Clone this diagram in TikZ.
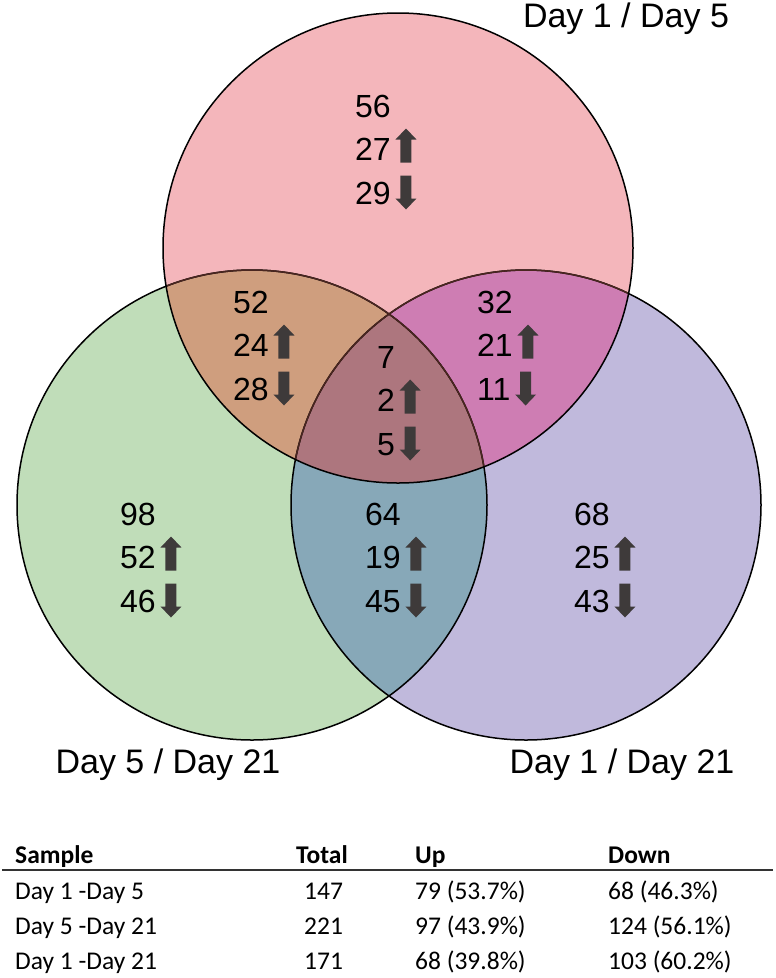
\documentclass[tikz,border=0pt]{standalone}
\usepackage{fontspec}
\setmainfont{Liberation Sans}
\newfontfamily\tabfont{Carlito}
\usetikzlibrary{calc}
\definecolor{vpink}{HTML}{F4B6BB}
\definecolor{vgreen}{HTML}{C0DDB9}
\definecolor{vpurple}{HTML}{C0B9DC}
\definecolor{vpg}{HTML}{CF9E7E}
\definecolor{vpp}{HTML}{CE7DB3}
\definecolor{vgp}{HTML}{87A8B8}
\definecolor{vall}{HTML}{AD767E}
\definecolor{vedge}{HTML}{4A2620}
\definecolor{varrow}{HTML}{3E3A3A}

\tikzset{
  uparr/.pic={\fill[varrow] (-5.5pt,-17pt) -- (5.5pt,-17pt) -- (5.5pt,6pt) -- (10.5pt,6pt) -- (0pt,17pt) -- (-10.5pt,6pt) -- (-5.5pt,6pt) -- cycle;},
  dnarr/.pic={\fill[varrow] (-5.5pt,17pt) -- (5.5pt,17pt) -- (5.5pt,-6pt) -- (10.5pt,-6pt) -- (0pt,-17pt) -- (-10.5pt,-6pt) -- (-5.5pt,-6pt) -- cycle;}
}

\begin{document}
\begin{tikzpicture}[x=1pt, y=-1pt,
    num/.style={anchor=base west, inner sep=0pt, font=\fontsize{32}{32}\selectfont},
    setlab/.style={anchor=base, inner sep=0pt, font=\fontsize{34}{34}\selectfont},
    th/.style={anchor=base west, inner sep=0pt, font=\tabfont\bfseries\fontsize{25.5}{25.5}\selectfont},
    td/.style={anchor=base west, inner sep=0pt, font=\tabfont\fontsize{25.5}{25.5}\selectfont}]
  \useasboundingbox (0,0) rectangle (776,978);
  % the three sets
  \coordinate (ct) at (398,248);
  \coordinate (cl) at (252,505);
  \coordinate (cr) at (526,505);
  \fill[vpink] (ct) circle (235);
  \fill[vgreen] (cl) circle (235);
  \fill[vpurple] (cr) circle (235);
  \begin{scope}
    \clip (cl) circle (235);
    \fill[vgp] (cr) circle (235);
  \end{scope}
  \begin{scope}
    \clip (ct) circle (235);
    \fill[vpg] (cl) circle (235);
    \fill[vpp] (cr) circle (235);
    \clip (cl) circle (235);
    \fill[vall] (cr) circle (235);
  \end{scope}
  \draw[line width=1.5pt] (cl) circle (235) (cr) circle (235);
  \begin{scope}
    \clip (ct) circle (235);
    \draw[vedge, line width=1.5pt] (cl) circle (235) (cr) circle (235);
  \end{scope}
  \draw[line width=1.5pt] (ct) circle (235);

  \node[setlab] (lab-t) at (626,27) {Day 1 / Day 5};
  \node[setlab] (lab-l) at (168,773) {Day 5 / Day 21};
  \node[setlab] (lab-r) at (622,773) {Day 1 / Day 21};

  % counts: total, up, down
  \foreach \nm/\px/\py/\tot/\up/\dn in {t/355/117/56/27/29, tl/233/313/52/24/28,
      tr/477/313/32/21/11, c/377/368/7/2/5, l/120/525/98/52/46,
      lr/365/525/64/19/45, r/574/525/68/25/43}{
    \node[num] (\nm-all) at (\px,\py) {\tot};
    \node[num] (\nm-up) at (\px,\py+43.5) {\up};
    \node[num] (\nm-dn) at (\px,\py+87) {\dn};
    \pic at ($(\nm-up.base east)+(15pt,15pt)$) {uparr};
    \pic at ($(\nm-dn.base east)+(15pt,11.5pt)$) {dnarr};
  }

  % table
  \node[th] (hd-s) at (15,863) {Sample};
  \node[th] (hd-t) at (296,863) {Total};
  \node[th] (hd-u) at (415,863) {Up};
  \node[th] (hd-d) at (608,863) {Down};
  \coordinate (rule-a) at (2,870);
  \coordinate (rule-b) at (773,870);
  \draw[line width=1.3pt, black!80] (rule-a) -- (rule-b);
  \foreach \i/\py/\s/\t/\u/\d in {1/899/Day 1 -Day 5/147/79 (53.7\%)/68 (46.3\%),
      2/934/Day 5 -Day 21/221/97 (43.9\%)/124 (56.1\%),
      3/969/Day 1 -Day 21/171/68 (39.8\%)/103 (60.2\%)}{
    \node[td] (r\i-s) at (15,\py) {\s};
    \node[td] (r\i-t) at (304,\py) {\t};
    \node[td] (r\i-u) at (415,\py) {\u};
    \node[td] (r\i-d) at (608,\py) {\d};
  }
\end{tikzpicture}
\end{document}
